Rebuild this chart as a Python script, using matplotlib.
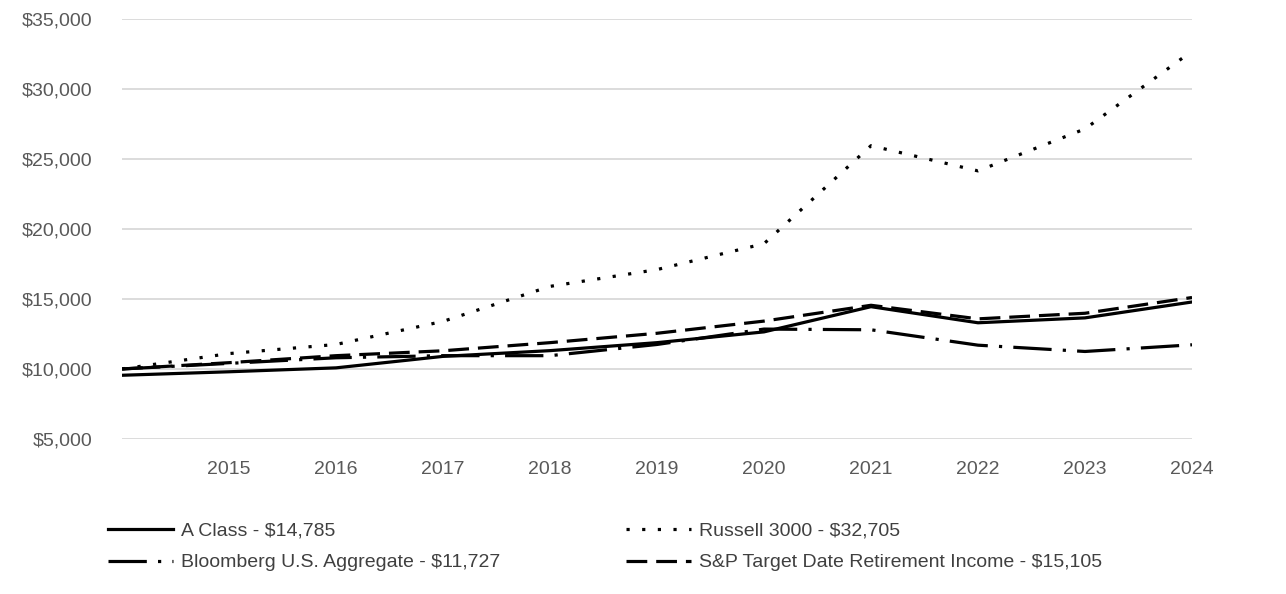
import matplotlib.pyplot as plt

plt.rcParams['font.family'] = ['Liberation Sans Narrow', 'Liberation Sans', 'DejaVu Sans']

# growth of $10,000
years = [2014, 2015, 2016, 2017, 2018, 2019, 2020, 2021, 2022, 2023, 2024]
a_class = [9550, 9800, 10080, 10900, 11310, 11880, 12650, 14450, 13300, 13650, 14785]
russell = [10000, 11100, 11750, 13400, 15900, 17100, 18950, 25950, 24150, 27150, 32705]
bloomberg = [10000, 10400, 10800, 10950, 10950, 11750, 12850, 12800, 11700, 11250, 11727]
sp_target = [10000, 10450, 10950, 11300, 11880, 12550, 13420, 14550, 13580, 13980, 15105]

labels = ['A Class - $14,785', 'Russell 3000 - $32,705',
          'Bloomberg U.S. Aggregate - $11,727',
          'S&P Target Date Retirement Income - $15,105']
yticks = [5000, 10000, 15000, 20000, 25000, 30000, 35000]
xticks = [2015, 2016, 2017, 2018, 2019, 2020, 2021, 2022, 2023, 2024]

fig = plt.figure(figsize=(12.86, 5.94), dpi=100)
ax = fig.add_axes([0.0949, 0.261, 0.832, 0.707])

lw = 2.3
h_a, = ax.plot(years, a_class, color='black', lw=lw, solid_joinstyle='miter')
h_r, = ax.plot(years, russell, color='black', lw=lw, linestyle=(0, (1, 3.9)),
               dash_capstyle='butt')
h_b, = ax.plot(years, bloomberg, color='black', lw=lw,
               linestyle=(0, (12, 3.5, 1, 3.5)))
h_s, = ax.plot(years, sp_target, color='black', lw=lw, linestyle=(0, (6.5, 2.8)))

ax.set_xlim(2014, 2024)
ax.set_ylim(5000, 35000)
ax.set_yticks(yticks)
ax.set_yticklabels([f'${v:,}' for v in yticks])
ax.set_xticks(xticks)
ax.set_xticklabels([str(x) for x in xticks])
ax.tick_params(length=0, labelsize=14, colors='#595959')
ax.tick_params(axis='y', pad=21.5)
ax.tick_params(axis='x', pad=16)
ax.grid(axis='y', color='#d9d9d9', lw=1.3)
ax.set_axisbelow(True)
for s in ax.spines.values():
    s.set_visible(False)

fig.legend([h_a, h_b, h_r, h_s], [labels[0], labels[2], labels[1], labels[3]],
           ncol=2, loc='upper left', bbox_to_anchor=(0.078, 0.134),
           frameon=False, fontsize=14, handlelength=3.35, handletextpad=0.4,
           columnspacing=6.45, labelspacing=0.72, labelcolor='#404040',
           borderaxespad=0)

fig.savefig('out.png', dpi=100)
